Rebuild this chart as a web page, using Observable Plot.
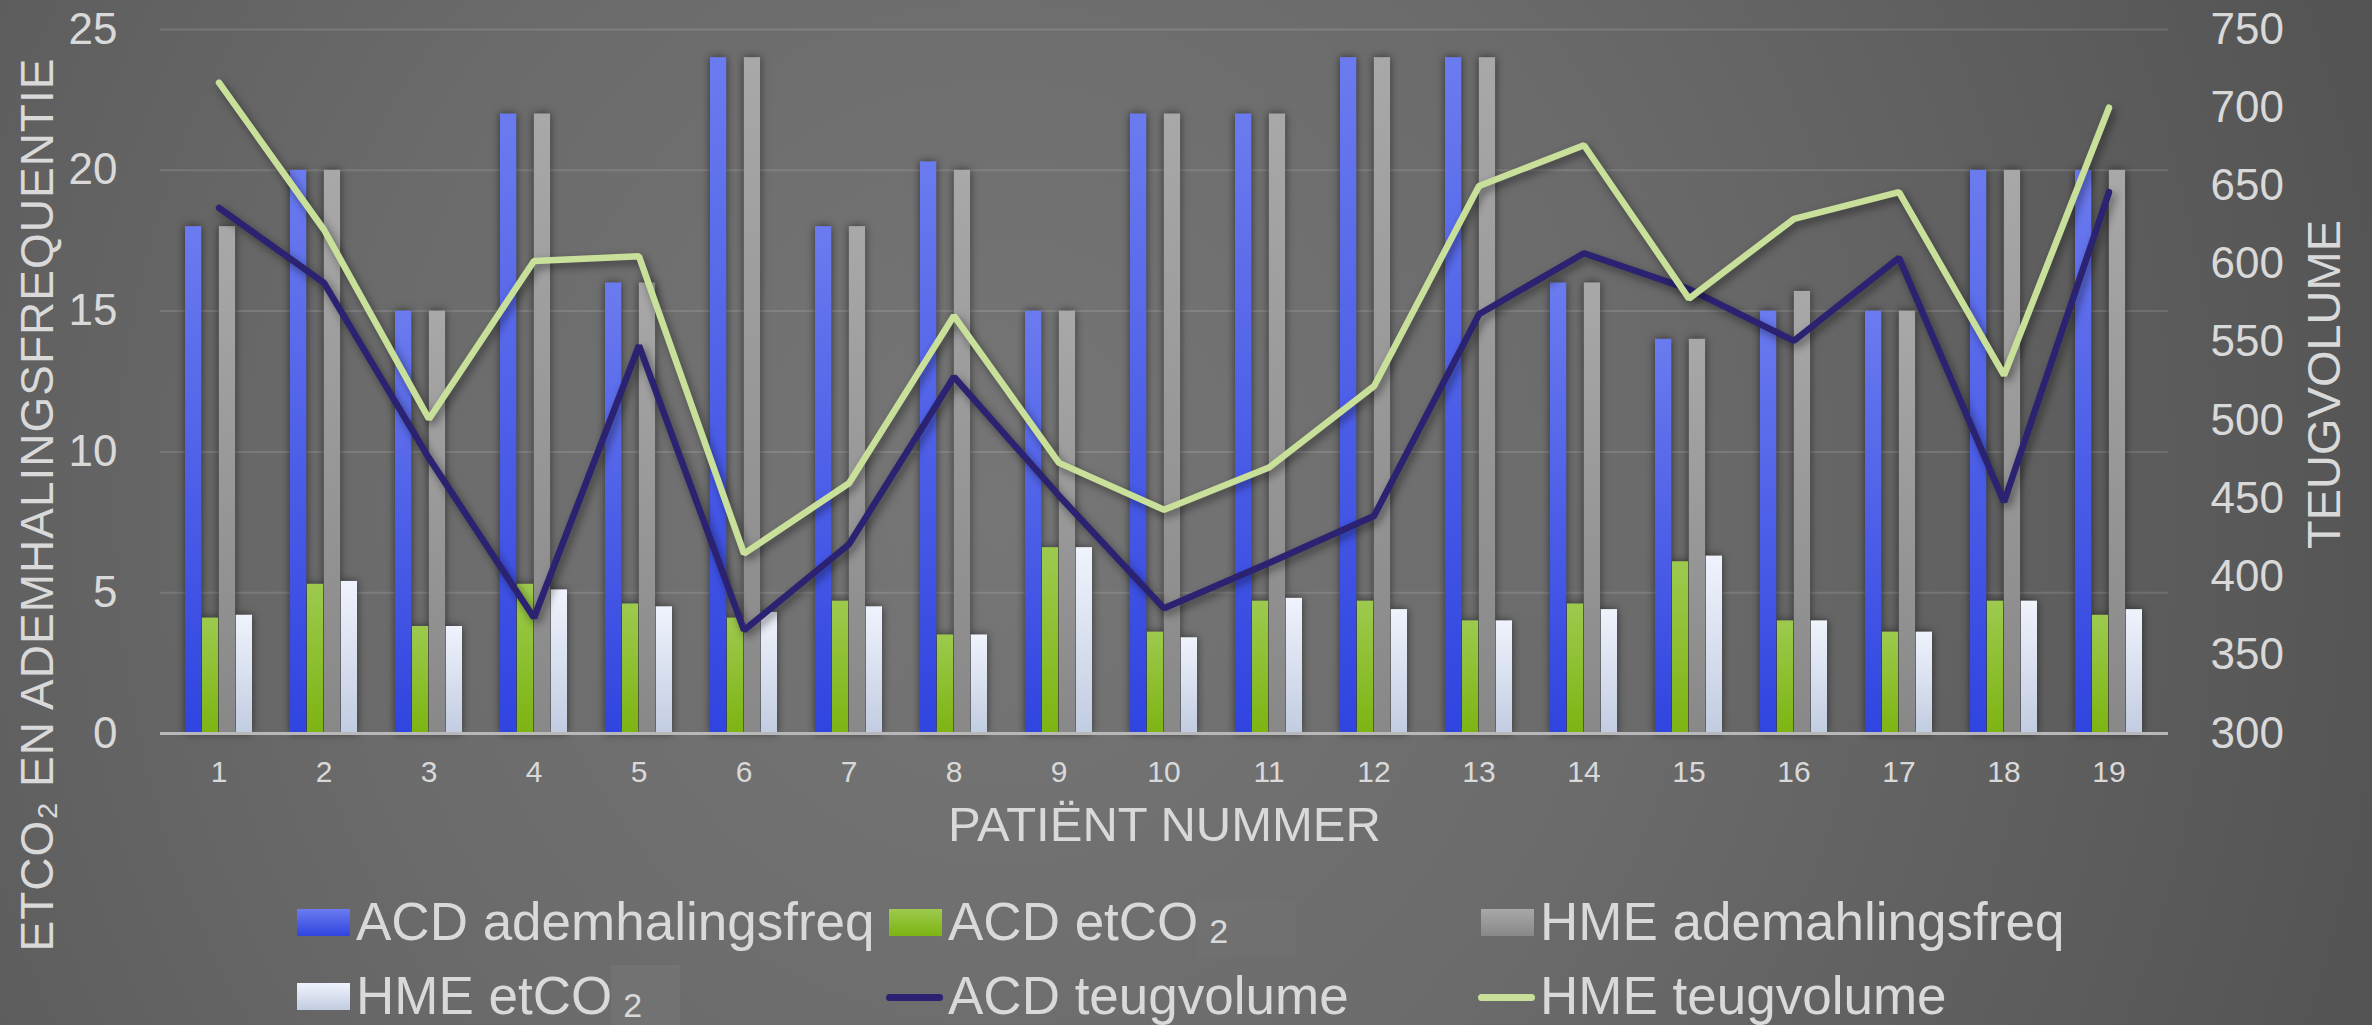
<!DOCTYPE html>
<html lang="nl">
<head>
<meta charset="utf-8">
<title>Ademhalingsfrequentie, etCO2 en teugvolume per patiënt</title>
<script src="https://cdn.jsdelivr.net/npm/d3@7"></script>
<script src="https://cdn.jsdelivr.net/npm/@observablehq/plot@0.6"></script>
<style>
  html, body { margin: 0; padding: 0; }
  body {
    width: 2372px; height: 1025px; overflow: hidden;
    background: radial-gradient(ellipse 60% 150% at 42% 50%, #767676 0%, #6b6b6b 45%, #545454 100%);
    font-family: "Liberation Sans", Arial, sans-serif;
    color: #d9d9d9;
  }
  #chart { position: relative; width: 2372px; height: 1025px; }
  #chart svg { position: absolute; left: 0; top: 0; }
  .legend-item { position: absolute; font-size: 53px; line-height: 52px; white-space: nowrap; }
  .legend-swatch { position: absolute; }
  .legend-sub { font-size: 34px; position: relative; top: 3px; margin-left: 11px; }
  .legend-ghost { position: absolute; }
</style>
</head>
<body>
<div id="chart"></div>
<script>
// ---- data -------------------------------------------------------------
const patients = [1, 2, 3, 4, 5, 6, 7, 8, 9, 10, 11, 12, 13, 14, 15, 16, 17, 18, 19];

// breathing frequency (per minute)
const acdFreq = [18, 20, 15, 22, 16, 24, 18, 20.3, 15, 22, 22, 24, 24, 16, 14, 15, 15, 20, 20];
const hmeFreq = [18, 20, 15, 22, 16, 24, 18, 20, 15, 22, 22, 24, 24, 16, 14, 15.7, 15, 20, 20];

// end-tidal CO2
const acdEtco2 = [4.1, 5.3, 3.8, 5.3, 4.6, 4.1, 4.7, 3.5, 6.6, 3.6, 4.7, 4.7, 4.0, 4.6, 6.1, 4.0, 3.6, 4.7, 4.2];
const hmeEtco2 = [4.2, 5.4, 3.8, 5.1, 4.5, 4.3, 4.5, 3.5, 6.6, 3.4, 4.8, 4.4, 4.0, 4.4, 6.3, 4.0, 3.6, 4.7, 4.4];

// tidal volume (ml), read against the right-hand axis
const acdTeug = [636, 588, 476, 374, 548, 366, 421, 528, 452, 380, 409, 439, 568, 607, 584, 551, 604, 448, 646];
const hmeTeug = [716, 622, 501, 602, 605, 415, 460, 567, 473, 443, 470, 522, 650, 676, 578, 629, 646, 529, 700];

// axes
const leftTicks = [0, 5, 10, 15, 20, 25];
const rightTicks = [300, 350, 400, 450, 500, 550, 600, 650, 700, 750];
const xTitle = "PATIËNT NUMMER";
const yTitle = "ETCO\u2082 EN ADEMHALINGSFREQUENTIE";
const y2Title = "TEUGVOLUME";

// legend labels, in reading order (three columns, two rows)
const legendLabels = ["ACD ademhalingsfreq", "ACD etCO", "HME ademahlingsfreq", "HME etCO", "ACD teugvolume", "HME teugvolume"];

// ---- layout -----------------------------------------------------------
const W = 2372, H = 1025;
const M = {left: 160, right: 204, top: 29, bottom: 292};
const padInner = 0.36, padOuter = 0.18;
const step = (W - M.left - M.right) / patients.length;
const sub = step * (1 - padInner) / 4;            // width of one bar within a group
const FONT = "'Liberation Sans', Arial, sans-serif";
const TEXT = "#d9d9d9";

// the right axis (300–750 ml) shares the 0–25 frame with the left one
const rightMin = rightTicks[0], rightMax = rightTicks[rightTicks.length - 1];
const toLeft = v => (v - rightMin) / (rightMax - rightMin) * 25;
const fromLeft = d => Math.round(rightMin + d / 25 * (rightMax - rightMin));

const rows = patients.map((p, i) => ({
  patient: p,
  acdFreq: acdFreq[i], acdEtco2: acdEtco2[i], hmeFreq: hmeFreq[i], hmeEtco2: hmeEtco2[i],
  acdTeug: acdTeug[i], hmeTeug: hmeTeug[i]
}));

const barSeries = [
  {key: "acdFreq", grad: "gBlue"},
  {key: "acdEtco2", grad: "gGreen"},
  {key: "hmeFreq", grad: "gGray"},
  {key: "hmeEtco2", grad: "gWhite"}
];

const svg = Plot.plot({
  width: W,
  height: H,
  marginLeft: M.left,
  marginRight: M.right,
  marginTop: M.top,
  marginBottom: M.bottom,
  style: {background: "transparent", fontFamily: FONT, color: TEXT, overflow: "visible"},
  x: {type: "band", domain: patients, paddingInner: padInner, paddingOuter: padOuter},
  y: {domain: [0, 25]},
  marks: [
    Plot.ruleY(leftTicks.filter(t => t > 0), {stroke: "#ffffff", strokeOpacity: 0.12, strokeWidth: 2}),
    ...barSeries.map((s, i) => Plot.barY(rows, {
      x: "patient", y: s.key, fill: `url(#${s.grad})`,
      insetLeft: i * sub, insetRight: (3 - i) * sub
    })),
    Plot.ruleY([0], {stroke: "#b8b8b8", strokeWidth: 3}),
    Plot.line(rows, {x: "patient", y: d => toLeft(d.acdTeug), stroke: "#2b2272", strokeWidth: 6.5,
      strokeLinejoin: "miter", strokeLinecap: "round"}),
    Plot.line(rows, {x: "patient", y: d => toLeft(d.hmeTeug), stroke: "#c9e09a", strokeWidth: 6.5,
      strokeLinejoin: "miter", strokeLinecap: "round"}),
    Plot.axisY(leftTicks, {anchor: "left", tickSize: 0, tickPadding: 43, fontSize: 44, color: TEXT, label: null}),
    Plot.axisY(rightTicks.map(toLeft), {anchor: "right", tickSize: 0, tickPadding: 42, fontSize: 44, color: TEXT,
      tickFormat: d => String(fromLeft(d)), label: null}),
    Plot.axisX({tickSize: 0, tickPadding: 27, fontSize: 30, color: TEXT, label: null}),
    Plot.text([xTitle], {text: d => d, frameAnchor: "bottom", textAnchor: "middle", lineAnchor: "middle",
      dy: 92, fontSize: 49, fill: TEXT}),
    Plot.text([yTitle], {text: d => d, frameAnchor: "left", textAnchor: "middle", lineAnchor: "middle",
      rotate: -90, dx: -122, dy: 123, fontSize: 46, fill: TEXT}),
    Plot.text([y2Title], {text: d => d, frameAnchor: "right", textAnchor: "middle", lineAnchor: "middle",
      rotate: -90, dx: 156, dy: 3, fontSize: 47, fill: TEXT})
  ]
});

// ---- gradients, shadows, spacing --------------------------------------
const root = d3.select(svg);
const defs = root.insert("defs", ":first-child");
function vGradient(id, top, bottom) {
  const g = defs.append("linearGradient").attr("id", id).attr("x1", 0).attr("y1", 0).attr("x2", 0).attr("y2", 1);
  g.append("stop").attr("offset", "0%").attr("stop-color", top);
  g.append("stop").attr("offset", "100%").attr("stop-color", bottom);
}
vGradient("gBlue", "#6b7bef", "#3044e0");
vGradient("gGreen", "#9dca4e", "#7db412");
vGradient("gGray", "#a8a8a8", "#888888");
vGradient("gWhite", "#eff3fc", "#c2cce1");

const barGroups = root.selectAll('g[aria-label="bar"]').nodes();
if (barGroups.length) {
  const wrap = root.insert("g", () => barGroups[0]).style("filter", "drop-shadow(0px 0px 4px rgba(0,0,0,0.55))");
  barGroups.forEach(g => wrap.node().appendChild(g));
}
root.selectAll('g[aria-label="line"]').style("filter", "drop-shadow(3px 4px 4px rgba(0,0,0,0.45))");
root.selectAll("text").filter(function () { return this.textContent === yTitle; })
  .style("letter-spacing", "1px");

const chart = document.getElementById("chart");
chart.appendChild(svg);

// ---- legend -----------------------------------------------------------
const legendCols = [297, 889, 1481];
const legendRowTops = [896, 970];
const legendSwatches = [
  {type: "box", fill: "linear-gradient(#6b7bef, #3044e0)"},
  {type: "box", fill: "linear-gradient(#9dca4e, #7db412)", sub: "2"},
  {type: "box", fill: "linear-gradient(#a8a8a8, #888888)"},
  {type: "box", fill: "linear-gradient(#eff3fc, #c2cce1)", sub: "2"},
  {type: "line", fill: "#2b2272"},
  {type: "line", fill: "#c9e09a"}
];

const legend = d3.select(chart).append("div").attr("class", "legend");
// faint boxes behind the subscripts
legend.append("div").attr("class", "legend-ghost")
  .style("left", "1197px").style("top", "900px").style("width", "98px").style("height", "57px")
  .style("background", "rgba(255,255,255,0.02)");
legend.append("div").attr("class", "legend-ghost")
  .style("left", "611px").style("top", "965px").style("width", "69px").style("height", "60px")
  .style("background", "rgba(255,255,255,0.045)");

legendLabels.forEach((label, i) => {
  const col = legendCols[i % 3], top = legendRowTops[Math.floor(i / 3)];
  const sw = legendSwatches[i];
  const s = legend.append("div").attr("class", "legend-swatch").style("background", sw.fill);
  if (sw.type === "box") {
    s.style("left", col + "px").style("top", (top + 13) + "px").style("width", "53px").style("height", "27px");
  } else {
    s.style("left", (col - 3) + "px").style("top", (top + 24) + "px").style("width", "57px").style("height", "7px")
      .style("border-radius", "4px");
  }
  const t = legend.append("div").attr("class", "legend-item")
    .style("left", (col + 59) + "px").style("top", top + "px");
  t.append("span").text(label);
  if (sw.sub) t.append("span").attr("class", "legend-sub").text(sw.sub);
});
</script>
</body>
</html>
